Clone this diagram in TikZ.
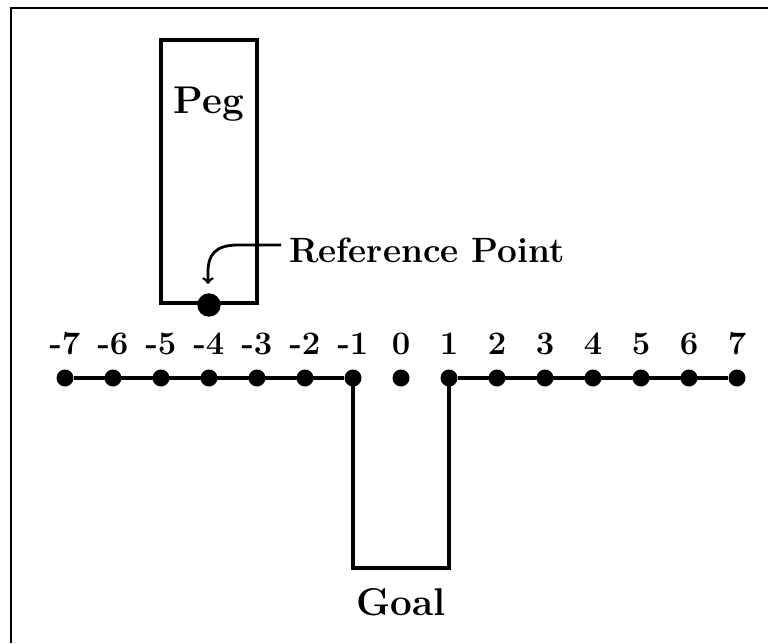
\documentclass[tikz,border=0pt]{standalone}
\usepackage{fontspec}
\usetikzlibrary{positioning}
\tikzset{
  node distance = 0.4cm,
  > = to,
  line/.style = {line width = 3.4pt},
  frame/.style = {line width = 2.4pt},
  pegbox/.style = {rectangle,
                   draw,
                   line,
                   minimum width = 2.88cm,
                   minimum height = 7.89cm,
                   inner sep = 0pt},
  dot/.style = {circle,
                fill,
                inner sep = 0pt,
                minimum size = 0.51cm},
  refdot/.style = {circle,
                   fill,
                   inner sep = 0pt,
                   minimum size = 0.7cm},
  num/.style = {font = \fontsize{28}{32}\selectfont\bfseries,
                inner sep = 0pt},
  lbl/.style = {font = \fontsize{30}{34}\selectfont\bfseries,
                inner sep = 0pt},
  biglbl/.style = {font = \fontsize{33}{38}\selectfont\bfseries,
                   inner sep = 0pt}
}

\begin{document}
\begin{tikzpicture}[x = 0.03cm, y = -0.03cm]

\useasboundingbox (0,0) rectangle (768,643);

% frame, only top and left edges show
\draw[frame] (768,8) -| (11,643);

% the peg and its reference point
\node[pegbox](peg) at (209,171.5) {};
\node[biglbl](peg-label)[below = 1.45cm of peg.north]{Peg};
\node[refdot](refpt) at (peg.south) {};

\node[lbl, anchor = base west](ref-label) at (289,262) {Reference Point};
\coordinate (arrow-start) at (281,245);
\draw[line width = 2.4pt, ->] (arrow-start) -- (238,245)
  .. controls (214,245) and (208,256) .. (208,272) -- (208,284);

% positions -7 ... 7
\foreach \i in {-7,...,7}
{
  \node[dot](n\i) at ({401+48*\i},378) {};
  \node[num](lbl\i)[above = 0.43cm of n\i]{\i};
}

\draw[line] (n-7) -- (n-1);
\draw[line] (n1) -- (n7);

% the goal slot
\coordinate (goal-base) at (401,568);
\draw[line] (n-1.center) |- (goal-base) -| (n1.center);
\node[biglbl](goal)[below = 0.62cm of goal-base]{Goal};

\end{tikzpicture}
\end{document}
